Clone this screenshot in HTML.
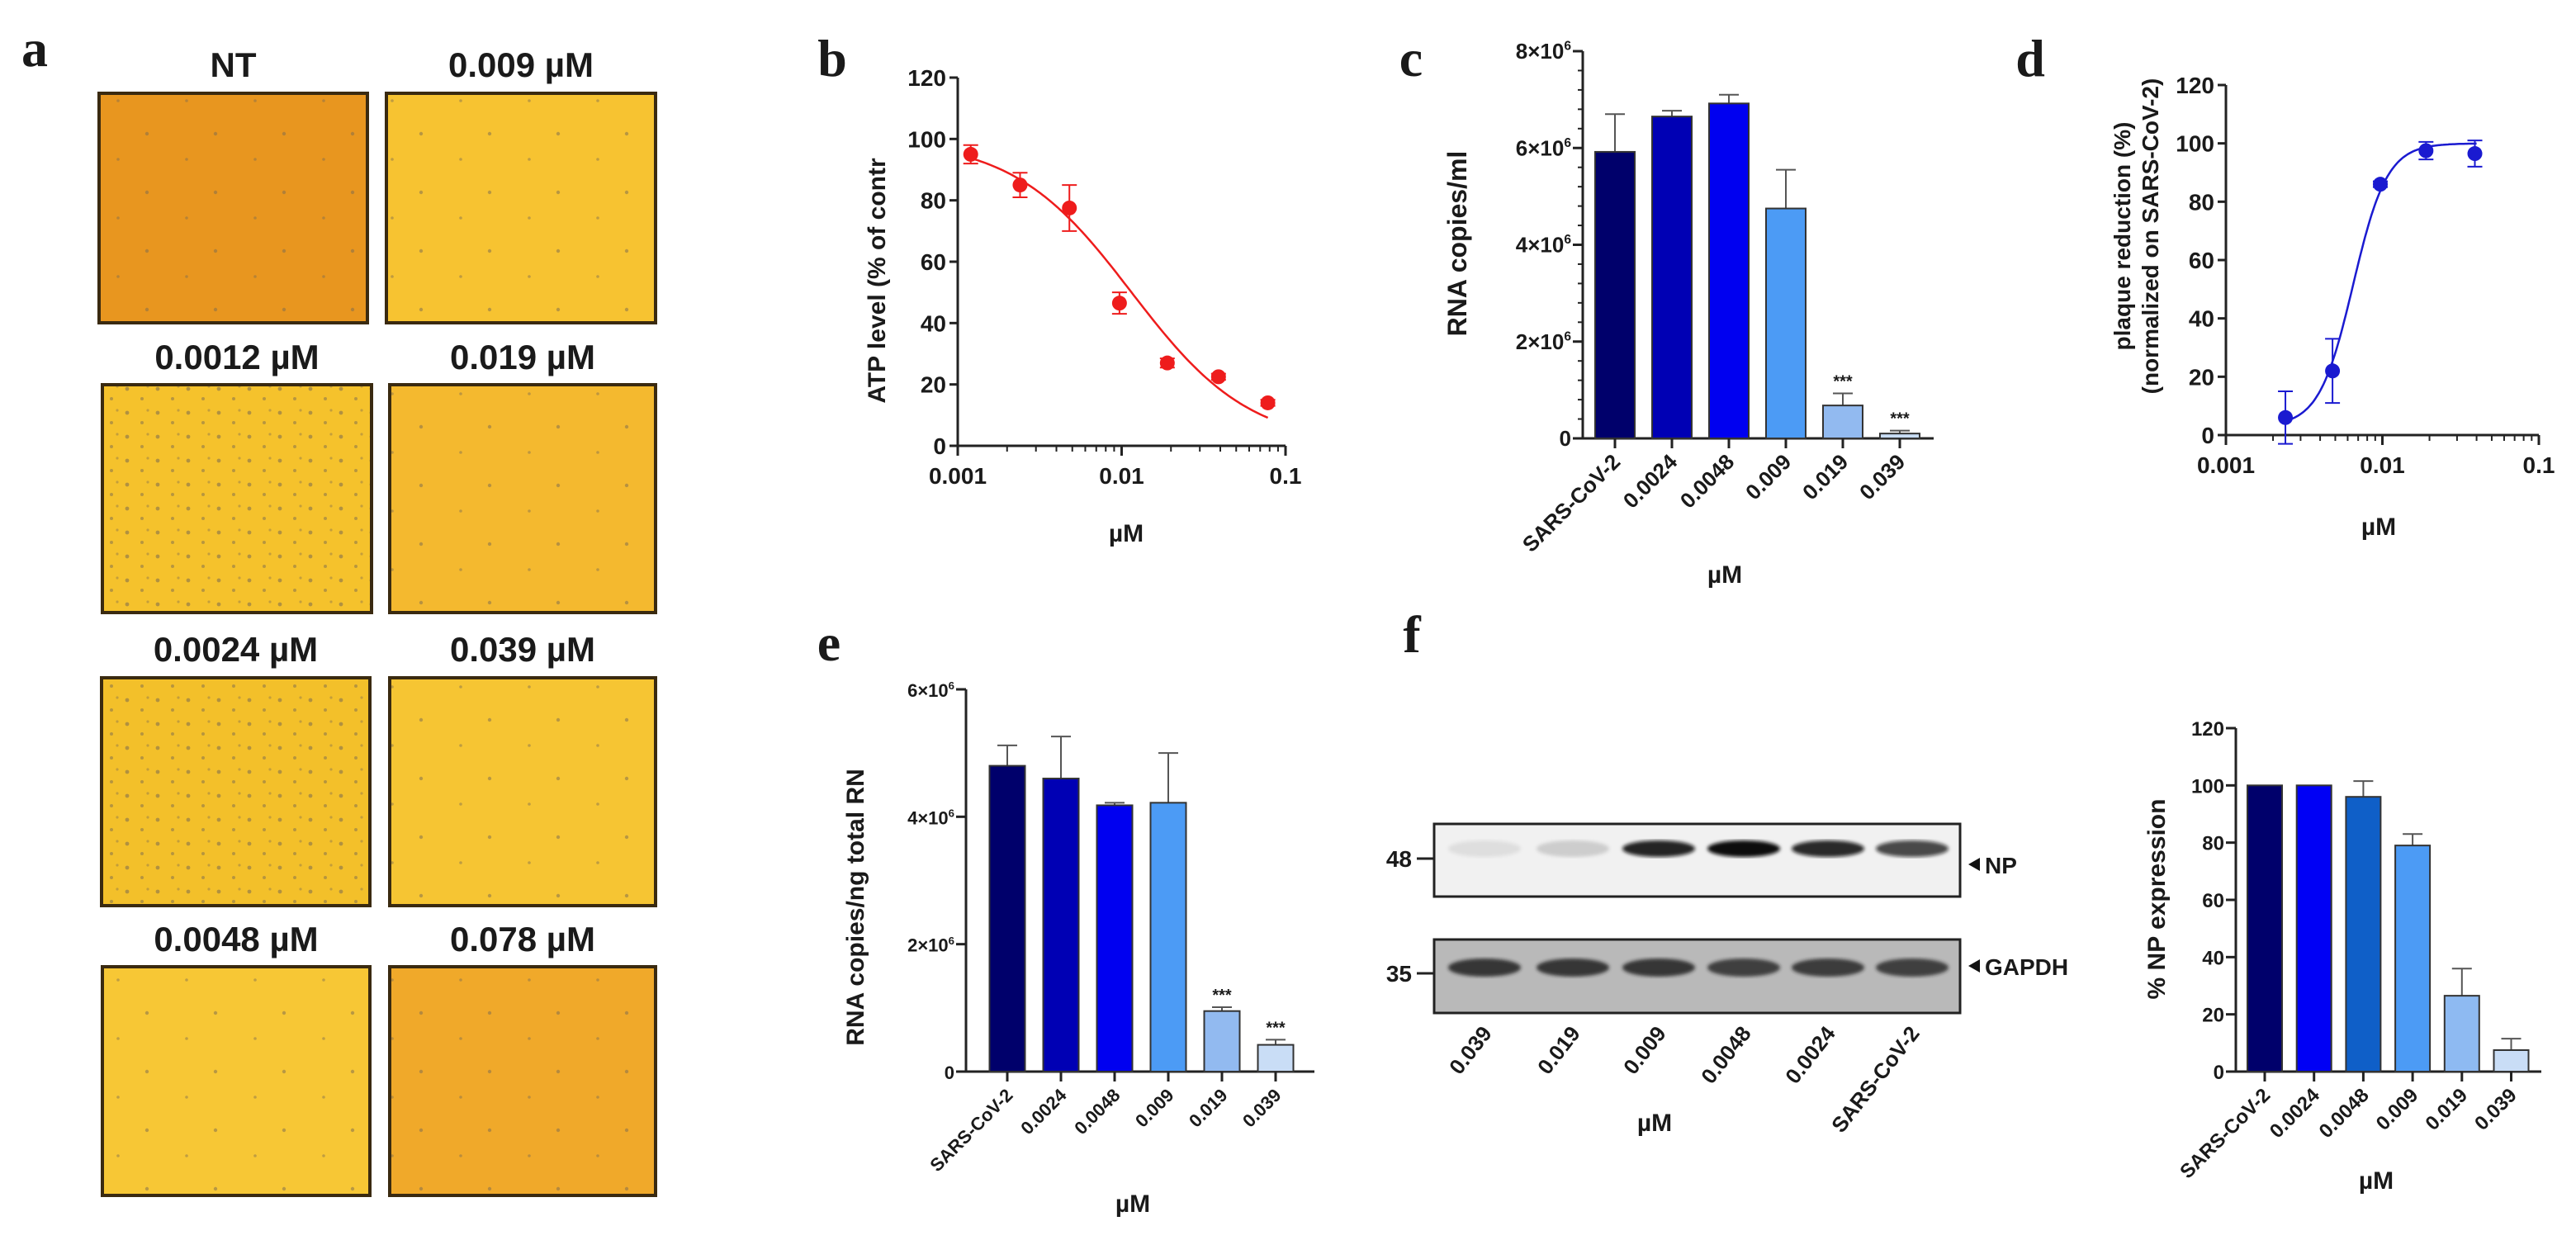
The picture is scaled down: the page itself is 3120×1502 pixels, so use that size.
<!DOCTYPE html>
<html><head><meta charset="utf-8">
<style>
html,body{margin:0;padding:0;background:#fff;}
svg{display:block;}
text{font-family:"Liberation Sans",Arial,sans-serif;font-weight:bold;fill:#1a1a1a;}
.serif{font-family:"Liberation Serif",serif;font-weight:bold;}
</style></head>
<body>
<svg id="fig" xmlns="http://www.w3.org/2000/svg" width="3120" height="1502" viewBox="0 0 3120 1502">
<defs>
<filter id="blur4"><feGaussianBlur stdDeviation="4"/></filter>
<filter id="blur2"><feGaussianBlur stdDeviation="2"/></filter>
<pattern id="cells" width="37" height="29" patternUnits="userSpaceOnUse">
<circle cx="6" cy="7" r="2.4" fill="#7a6a50" opacity="0.55"/>
<circle cx="24" cy="19" r="2" fill="#7a6a50" opacity="0.5"/>
<circle cx="31" cy="4" r="1.6" fill="#7a6a50" opacity="0.4"/>
</pattern>
<pattern id="cellsSparse" width="83" height="71" patternUnits="userSpaceOnUse">
<circle cx="12" cy="20" r="2.2" fill="#7a6a50" opacity="0.5"/>
<circle cx="60" cy="51" r="1.8" fill="#7a6a50" opacity="0.45"/>
</pattern>
</defs>
<g id="root"></g>
</svg>
<script>
// ---------- Panel a ----------
const aLabels = ["NT","0.009 µM","0.0012 µM","0.019 µM","0.0024 µM","0.039 µM","0.0048 µM","0.078 µM"];
const aColors = ["#e8961f","#f7c331","#f5c22c","#f4b92f","#f3c02a","#f6c533","#f7c735","#f0a92a"];
const aDense = [0,0,1,0,1,0,0,0];

// ---------- Panel b ----------
const bX = [0.0012,0.0024,0.0048,0.0097,0.019,0.039,0.078];
const bY = [95,85,77.5,46.5,27,22.5,14];
const bErr = [3,4,7.5,3.5,1.5,1,1];
const bFit = [100,0,0.0115,1.2]; // top,bottom,ic50,hill
const bYTicks = [0,20,40,60,80,100,120];
const bXTicks = [0.001,0.01,0.1];
const bXTickLabels = ["0.001","0.01","0.1"];

// ---------- Panel c ----------
const cCats = ["SARS-CoV-2","0.0024","0.0048","0.009","0.019","0.039"];
const cVals = [5.92,6.65,6.92,4.75,0.68,0.1];
const cErr = [0.78,0.12,0.18,0.8,0.25,0.06];
const cColors = ["#00006b","#0000b4","#0000f0","#4c9bf5","#92baf0","#c9ddf6"];
const cStars = ["","","","","***","***"];
const cYTicks = [0,2,4,6,8];

// ---------- Panel d ----------
const dX = [0.0024,0.0048,0.0097,0.019,0.039];
const dY = [6,22,86,97.5,96.5];
const dErr = [9,11,1,3,4.5];
const dFit = [100,3,0.0065,4]; // top,bottom,ec50,hill
const dYTicks = [0,20,40,60,80,100,120];
const dXTickLabels = ["0.001","0.01","0.1"];

// ---------- Panel e ----------
const eCats = ["SARS-CoV-2","0.0024","0.0048","0.009","0.019","0.039"];
const eVals = [4.8,4.6,4.18,4.22,0.95,0.42];
const eErr = [0.32,0.66,0.04,0.78,0.06,0.08];
const eColors = ["#00006b","#0000b4","#0000f0","#4c9bf5","#92baf0","#c9ddf6"];
const eStars = ["","","","","***","***"];
const eYTicks = [0,2,4,6];

// ---------- Panel f blot ----------
const fLanes = ["0.039","0.019","0.009","0.0048","0.0024","SARS-CoV-2"];
const fNP = [0.08,0.15,0.9,1.0,0.88,0.75];
const fGAPDH = [0.85,0.85,0.85,0.8,0.82,0.8];

// ---------- Panel f bars ----------
const gCats = ["SARS-CoV-2","0.0024","0.0048","0.009","0.019","0.039"];
const gVals = [100,100,96,79,26.5,7.5];
const gErr = [0,0,5.5,4,9.5,4];
const gColors = ["#00006b","#0000f5","#0f5fc8","#4c9bf5","#8ebaf2","#c9ddf6"];
const gYTicks = [0,20,40,60,80,100,120];

const NS = "http://www.w3.org/2000/svg";
const root = document.getElementById('root');
function mk(tag, attrs, name, parent){
  const el = document.createElementNS(NS, tag);
  for (const k in attrs) el.setAttribute(k, attrs[k]);
  
  
  (parent||root).appendChild(el);
  return el;
}
function txt(x,y,s,size,name,opts){
  opts = opts||{};
  const t = mk('text',{x:x,y:y,'font-size':size,'text-anchor':opts.anchor||'middle'},name,opts.parent);
  if (opts.rot!==undefined) t.setAttribute('transform','rotate('+opts.rot+' '+x+' '+y+')');
  if (opts.cls) t.setAttribute('class',opts.cls);
  if (opts.fill) t.setAttribute('fill',opts.fill);
  t.textContent = s;
  return t;
}
function sci(x,y,mant,size,name){
  const t = mk('text',{x:x,y:y,'font-size':size,'text-anchor':'end'},name);
  t.appendChild(document.createTextNode(mant+'×10'));
  const sp = document.createElementNS(NS,'tspan');
  sp.setAttribute('dy', -size*0.4);
  sp.setAttribute('font-size', size*0.6);
  sp.textContent = '6';
  t.appendChild(sp);
  return t;
}
function line(x1,y1,x2,y2,w,name,col){
  return mk('line',{x1:x1,y1:y1,x2:x2,y2:y2,stroke:col||'#222','stroke-width':w},name);
}

// ===== Panel a =====
txt(42,80,'a',64,'panel-a-label',{cls:'serif'});
const aBoxes = [[120,113,445,391],[468,113,794,391],[124,466,450,742],[472,466,794,742],[123,821,448,1097],[472,821,794,1097],[124,1171,448,1448],[472,1171,794,1448]];
const aLabY = [79,79,433,433,787,787,1138,1138];
for (let i=0;i<8;i++){
  const b=aBoxes[i];
  const g = mk('g',{},'micrograph-'+i);
  mk('rect',{x:b[0],y:b[1],width:b[2]-b[0],height:b[3]-b[1],fill:aColors[i]},'micrograph-bg',g);
  mk('rect',{x:b[0],y:b[1],width:b[2]-b[0],height:b[3]-b[1],fill:aDense[i]?'url(#cells)':'url(#cellsSparse)'},'micrograph-cells',g);
  mk('rect',{x:b[0],y:b[1],width:b[2]-b[0],height:b[3]-b[1],fill:'none',stroke:'#3a2a10','stroke-width':4},'micrograph-border',g);
  txt((b[0]+b[2])/2,aLabY[i]+14,aLabels[i],42,'micrograph-title');
}

// ===== Generic log-x dose-response =====
function logPanel(cfg){
  const lx = v => cfg.x0 + (Math.log10(v)-(-3))/2*(cfg.x1-cfg.x0);
  const ly = v => cfg.y0 - v/120*(cfg.y0-cfg.y1);
  line(cfg.x0,cfg.y1,cfg.x0,cfg.y0,3,cfg.p+'-y-axis');
  line(cfg.x0,cfg.y0,cfg.x1,cfg.y0,3,cfg.p+'-x-axis');
  cfg.yt.forEach(v=>{
    line(cfg.x0-10,ly(v),cfg.x0,ly(v),3,cfg.p+'-y-tick');
    txt(cfg.x0-14,ly(v)+10,String(v),28,cfg.p+'-y-tick-label',{anchor:'end'});
  });
  for (let d=-3; d<-1; d++){
    for (let m=1;m<=10;m++){
      const v = m*Math.pow(10,d);
      const major = (m===1||m===10);
      line(lx(v),cfg.y0,lx(v),cfg.y0+(major?12:7),major?3:2,cfg.p+'-x-tick');
    }
  }
  cfg.xl.forEach((s,i)=>txt(lx(Math.pow(10,-3+i)),cfg.y0+46,s,28,cfg.p+'-x-tick-label'));
  // fit curve
  const f = cfg.fit;
  let d='';
  const n=120, a=Math.log10(cfg.cx[0]), b=Math.log10(cfg.cx[1]);
  for (let i=0;i<=n;i++){
    const xv = Math.pow(10,a+(b-a)*i/n);
    const r = Math.pow(xv/f[2],f[3]);
    const yv = cfg.rising ? f[1]+(f[0]-f[1])*r/(1+r) : f[1]+(f[0]-f[1])/(1+r);
    d += (i?'L':'M')+lx(xv).toFixed(1)+' '+ly(yv).toFixed(1);
  }
  mk('path',{d:d,fill:'none',stroke:cfg.col,'stroke-width':2.5},cfg.p+'-fit-curve');
  cfg.xs.forEach((xv,i)=>{
    const cx=lx(xv), cy=ly(cfg.ys[i]), e=cfg.es[i];
    line(cx,ly(cfg.ys[i]-e),cx,ly(cfg.ys[i]+e),2,cfg.p+'-error-bar',cfg.col);
    line(cx-9,ly(cfg.ys[i]+e),cx+9,ly(cfg.ys[i]+e),2,cfg.p+'-error-cap',cfg.col);
    line(cx-9,ly(cfg.ys[i]-e),cx+9,ly(cfg.ys[i]-e),2,cfg.p+'-error-cap',cfg.col);
    mk('circle',{cx:cx,cy:cy,r:9,fill:cfg.col},cfg.p+'-point');
  });
}

// ===== Panel b =====
txt(1008,92,'b',64,'panel-b-label',{cls:'serif'});
logPanel({p:'b',x0:1160,x1:1557,y0:540,y1:94,yt:bYTicks,xl:bXTickLabels,fit:bFit,rising:false,cx:[bX[0],bX[bX.length-1]],xs:bX,ys:bY,es:bErr,col:'#ee1c1c'});
txt(1072,340,'ATP level (% of contr',30,'b-y-axis-title',{rot:-90});
txt(1364,656,'µM',30,'b-x-axis-title');

// ===== Bar panel helper =====
function barPanel(cfg){
  const ly = v => cfg.y0 - v/cfg.ymax*(cfg.y0-cfg.y1);
  line(cfg.x0,cfg.y1,cfg.x0,cfg.y0,3,cfg.p+'-y-axis');
  line(cfg.x0-8,cfg.y0,cfg.x1,cfg.y0,3,cfg.p+'-x-axis');
  if (cfg.minor){
    for (let v=0; v<=cfg.ymax; v+=cfg.minor) line(cfg.x0-6,ly(v),cfg.x0,ly(v),2,cfg.p+'-y-minor-tick');
  }
  cfg.yt.forEach(v=>{
    line(cfg.x0-12,ly(v),cfg.x0,ly(v),3,cfg.p+'-y-tick');
    if (cfg.sci && v>0) sci(cfg.x0-14,ly(v)+9,v,cfg.fs,cfg.p+'-y-tick-label');
    else txt(cfg.x0-14,ly(v)+9,String(v),cfg.fs,cfg.p+'-y-tick-label',{anchor:'end'});
  });
  cfg.cats.forEach((c,i)=>{
    const cx = cfg.c0 + cfg.step*i;
    const v = cfg.vals[i], e = cfg.errs[i];
    if (e>0){
      line(cx,ly(v),cx,ly(v+e),2,cfg.p+'-error-bar','#555');
      line(cx-12,ly(v+e),cx+12,ly(v+e),2,cfg.p+'-error-cap','#555');
    }
    mk('rect',{x:cx-cfg.bw/2,y:ly(v),width:cfg.bw,height:cfg.y0-ly(v),fill:cfg.colors[i],stroke:'#333','stroke-width':2},cfg.p+'-bar-'+i);
    if (cfg.stars && cfg.stars[i]) txt(cx,ly(v+e)-8,cfg.stars[i],20,cfg.p+'-significance');
    line(cx,cfg.y0,cx,cfg.y0+12,3,cfg.p+'-x-tick');
    txt(cx+8,cfg.y0+30,c,cfg.fs,cfg.p+'-x-tick-label',{anchor:'end',rot:-45});
  });
}

// ===== Panel c =====
txt(1709,92,'c',64,'panel-c-label',{cls:'serif'});
barPanel({p:'c',x0:1917,x1:2342,y0:531,y1:62,ymax:8,yt:cYTicks,sci:true,minor:0.4,fs:26,cats:cCats,vals:cVals,errs:cErr,colors:cColors,stars:cStars,c0:1956,step:69,bw:48});
txt(1776,295,'RNA copies/ml',32,'c-y-axis-title',{rot:-90});
txt(2089,706,'µM',30,'c-x-axis-title');

// ===== Panel d =====
txt(2459,92,'d',64,'panel-d-label',{cls:'serif'});
logPanel({p:'d',x0:2696,x1:3075,y0:527,y1:103,yt:dYTicks,xl:dXTickLabels,fit:dFit,rising:true,cx:[0.0024,0.04],xs:dX,ys:dY,es:dErr,col:'#1a1ad0'});
txt(2580,286,'plaque reduction (%)',28,'d-y-axis-title-line1',{rot:-90});
txt(2614,286,'(normalized on SARS-CoV-2)',28,'d-y-axis-title-line2',{rot:-90});
txt(2881,648,'µM',30,'d-x-axis-title');

// ===== Panel e =====
txt(1004,800,'e',64,'panel-e-label',{cls:'serif'});
barPanel({p:'e',x0:1170,x1:1592,y0:1298,y1:835,ymax:6,yt:eYTicks,sci:true,fs:22,cats:eCats,vals:eVals,errs:eErr,colors:eColors,stars:eStars,c0:1220,step:65,bw:43});
txt(1046,1099,'RNA copies/ng total RN',30,'e-y-axis-title',{rot:-90});
txt(1372,1468,'µM',30,'e-x-axis-title');

// ===== Panel f blot =====
txt(1710,790,'f',64,'panel-f-label',{cls:'serif'});
const laneX = [1798,1905,2009,2112,2214,2316];
mk('rect',{x:1737,y:998,width:637,height:88,fill:'#f1f1f1',stroke:'#222','stroke-width':3},'np-blot');
mk('rect',{x:1737,y:1138,width:637,height:89,fill:'#b9b9b9',stroke:'#222','stroke-width':3},'gapdh-blot');
fLanes.forEach((l,i)=>{
  mk('ellipse',{cx:laneX[i],cy:1028,rx:44,ry:10,fill:'#111','fill-opacity':fNP[i],filter:'url(#blur2)'},'np-band');
  mk('ellipse',{cx:laneX[i],cy:1172,rx:44,ry:11,fill:'#222','fill-opacity':fGAPDH[i],filter:'url(#blur2)'},'gapdh-band');
  txt(laneX[i]+10,1252,l,26,'blot-lane-label',{anchor:'end',rot:-52});
});
line(1716,1040,1737,1040,3,'marker-48-tick');
txt(1710,1050,'48',28,'marker-48',{anchor:'end'});
line(1716,1179,1737,1179,3,'marker-35-tick');
txt(1710,1189,'35',28,'marker-35',{anchor:'end'});
mk('path',{d:'M2384 1047 L2398 1039 L2398 1055 Z',fill:'#111'},'np-arrow');
txt(2404,1058,'NP',28,'np-label',{anchor:'start'});
mk('path',{d:'M2384 1170 L2398 1162 L2398 1178 Z',fill:'#111'},'gapdh-arrow');
txt(2404,1181,'GAPDH',28,'gapdh-label',{anchor:'start'});
txt(2004,1370,'µM',30,'blot-x-axis-title');

// ===== Panel f bars =====
barPanel({p:'g',x0:2708,x1:3078,y0:1298,y1:882,ymax:120,yt:gYTicks,sci:false,fs:24,cats:gCats,vals:gVals,errs:gErr,colors:gColors,stars:null,c0:2743,step:59.7,bw:42});
txt(2622,1089,'% NP expression',30,'g-y-axis-title',{rot:-90});
txt(2878,1440,'µM',30,'g-x-axis-title');
</script>
</body></html>
